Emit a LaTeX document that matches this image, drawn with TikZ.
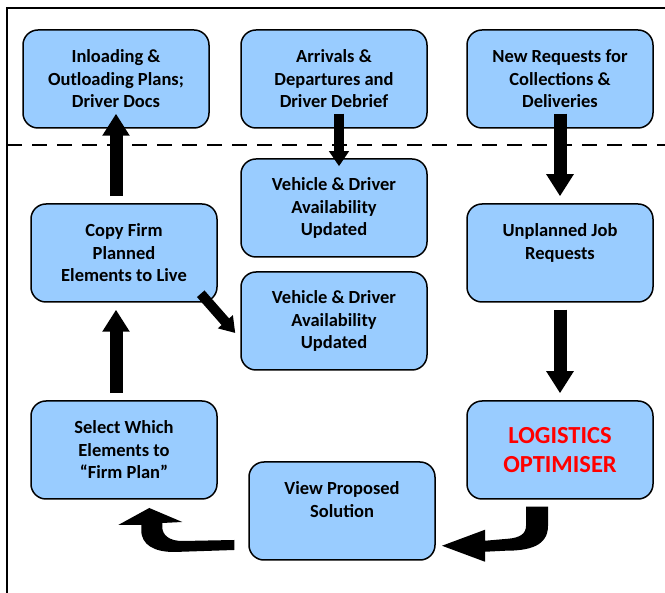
\documentclass[tikz,border=0pt]{standalone}
\usepackage{fontspec}
\setmainfont{Carlito}
\usetikzlibrary{arrows.meta}
\definecolor{boxblue}{RGB}{153,204,255}
\definecolor{optred}{RGB}{255,0,0}
\begin{document}
\begin{tikzpicture}[x=1pt,y=-1pt,
  box/.style={draw=black, line width=1.5pt, fill=boxblue, rounded corners=15pt,
    minimum width=186pt, minimum height=98pt, align=center, inner sep=0pt,
    font=\bfseries\fontsize{18.5}{22.5}\selectfont},
  blk/.style={line width=13pt, -{Triangle[width=26pt,length=22pt]}},
  thinblk/.style={line width=10pt, -{Triangle[width=19pt,length=15pt]}},
  frame/.style={line width=1.5pt, black},
  sep/.style={line width=2pt, dash pattern=on 15pt off 10pt}]
\useasboundingbox (0,0) rectangle (665,593);
% frame and separator
\draw[frame] (7,593) -- (7,8) -- (665,8);
\draw[sep] (7,145) -- (665,145);
% boxes
\node[box] (inl) at (116,79) {Inloading \&\\Outloading Plans;\\Driver Docs};
\node[box] (arr) at (334,79) {Arrivals \&\\Departures and\\Driver Debrief};
\node[box] (newr) at (560,79) {New Requests for\\Collections \&\\Deliveries};
\node[box] (veh1) at (334,208) {Vehicle \& Driver\\Availability\\Updated};
\node[box] (veh2) at (334,321) {Vehicle \& Driver\\Availability\\Updated};
\node[box] (copy) at (124,253) {Copy Firm\\Planned\\Elements to Live};
\node[box] (unpl) at (560,253) {Unplanned Job\\Requests\\\mbox{}};
\node[box] (sel) at (124,450) {Select Which\\Elements to\\“Firm Plan”};
\node[box, font=\bfseries\fontsize{24.5}{29}\selectfont, text=optred] (logi) at (560,450) {LOGISTICS\\OPTIMISER};
\node[box] (view) at (342,511) {View Proposed\\Solution\\\mbox{}};
% straight block arrows
\draw[blk] ([shift={(-8,-7)}]copy.north) -- ([shift={(0,-15)}]inl.south);
\draw[thinblk] ([shift={(5,-15)}]arr.south) -- ([shift={(5,8)}]veh1.north);
\draw[blk] ([shift={(0,-15)}]newr.south) -- ([shift={(0,-7)}]unpl.north);
\draw[blk] ([shift={(0,7)}]unpl.south) -- ([shift={(0,-7)}]logi.north);
\draw[blk] ([shift={(-8,-7)}]sel.north) -- ([shift={(-8,7)}]copy.south);
\draw[thinblk] ([shift={(-17,-9)}]copy.south east) -- ([shift={(-5,12)}]veh2.west);
% bent block arrow: optimiser -> view proposed
\begin{scope}[shift={(logi.south)}]
\fill[black] (-34,7) -- (-12,7) -- (-12,26)
  .. controls (-12,46) and (-30,51) .. (-55,51)
  -- (-75,52) -- (-75,62) -- (-118,46) -- (-75,30) -- (-75,41) -- (-52,39)
  .. controls (-40,38) and (-34,34) .. (-34,26) -- cycle;
\end{scope}
% bent block arrow: view proposed -> select
\begin{scope}[shift={(view.west)}]
\fill[black] (-14,29) -- (-66,30)
  .. controls (-79,30) and (-86,24) .. (-86,16)
  -- (-86,12) -- (-66,11) -- (-99,-3) -- (-130,14) -- (-107,14) -- (-107,19)
  .. controls (-107,34) and (-94,41) .. (-74,41)
  -- (-14,39) -- cycle;
\end{scope}
\end{tikzpicture}
\end{document}
